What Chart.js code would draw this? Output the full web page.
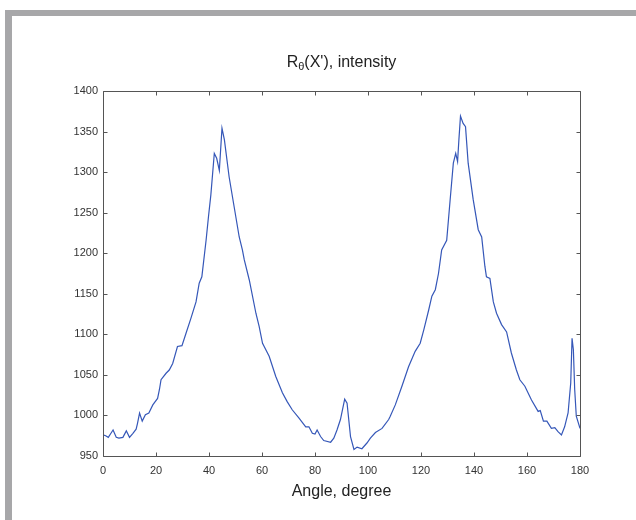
<!DOCTYPE html>
<html>
<head>
<meta charset="utf-8">
<script src="https://cdn.jsdelivr.net/npm/chart.js@4/dist/chart.umd.min.js"></script>
<style>
  html, body { margin: 0; padding: 0; background: #fff; }
  #wrap { position: relative; width: 636px; height: 520px; overflow: hidden; }
  #frameTop { position: absolute; left: 5px; top: 10px; width: 631px; height: 6px; background: #a7a7a9; }
  #frameLeft { position: absolute; left: 5px; top: 10px; width: 7px; height: 510px; background: #a7a7a9; }
  canvas { position: absolute; left: 0; top: 0; }
</style>
</head>
<body>
<div id="wrap">
  <div id="frameTop"></div>
  <div id="frameLeft"></div>
  <canvas id="c" width="636" height="520"></canvas>
</div>
<script>
const angles = [0, 1, 2, 3, 3.8, 5, 6, 7.5, 8.8, 10, 11.3, 12.5, 13, 13.8, 14.8, 16, 17.3, 18.8, 20.6, 21.3,
  21.9, 23.8, 25, 26.3, 28.1, 29.8, 31.3, 33.2, 35.1, 36.3, 37.3, 38.9, 39.8, 40.7, 42, 42.9, 43.9, 44.9, 45.8,
  47.6, 49.5, 51.4, 52.6, 53.3, 55.2, 57.7, 58.9, 60.2, 62.7, 65.2, 67.7, 69.5, 71.4, 73.9, 76.5, 77.7, 79, 80,
  80.8, 82.1, 83.3, 85.9, 87.1, 88.3, 89.6, 91.2, 92.1, 93.4, 94.7, 95.9, 97.7, 99.6, 100.9, 102.8, 105.3, 107.8,
  108.4, 110.3, 112.8, 115.3, 117.8, 119.7, 121.1, 122.9, 124.1, 125.4, 126.6, 127.8, 129.7, 131, 132.2, 133.1,
  133.8, 134.3, 134.9, 135.9, 136.8, 137.8, 139.7, 141.6, 142.9, 144.1, 144.7, 146, 147.3, 148.5, 150.4, 152.3,
  154.1, 156, 157.3, 159.2, 161.7, 164.2, 165, 166.2, 167.5, 169.2, 170.5, 171.7, 173, 174.2, 175.5, 176.5, 177,
  177.5, 178, 178.6, 180];
const intensity = [976, 975, 973, 978, 982, 973, 972, 973, 981, 973, 978, 983, 990, 1003, 993, 1001, 1003, 1013, 1021, 1032,
  1044, 1052, 1056, 1064, 1085, 1086, 1101, 1120, 1140, 1163, 1171, 1216, 1245, 1272, 1323, 1317, 1302, 1354, 1340,
  1294, 1257, 1220, 1204, 1192, 1167, 1126, 1110, 1089, 1073, 1048, 1028, 1017, 1007, 997, 986, 986, 978, 977,
  982, 974, 969, 967, 972, 982, 995, 1020, 1015, 974, 958, 961, 959, 966, 972, 979, 984, 995,
  999, 1013, 1036, 1060, 1079, 1089, 1106, 1130, 1147, 1155, 1175, 1204, 1216, 1266, 1311, 1323,
  1313, 1340, 1369, 1360, 1356, 1311, 1266, 1229, 1220, 1184, 1171, 1169, 1140, 1126, 1112, 1103,
  1077, 1056, 1044, 1036, 1019, 1005, 1006, 993, 993, 984, 985, 980, 976, 986, 1003, 1040, 1095,
  1081, 1032, 999, 984];
const xTicks = [0, 20, 40, 60, 80, 100, 120, 140, 160, 180];
const yTicks = [950, 1000, 1050, 1100, 1150, 1200, 1250, 1300, 1350, 1400];
const titleMain = 'R';
const titleSub = 'θ';
const titleRest = "(X'), intensity";
const xTitle = 'Angle, degree';

const points = angles.map((a, i) => ({ x: a, y: intensity[i] }));

const boxPlugin = {
  id: 'boxPlugin',
  afterDraw(chart) {
    const ctx = chart.ctx;
    const a = chart.chartArea;
    const xs = chart.scales.x, ys = chart.scales.y;
    ctx.save();
    ctx.strokeStyle = '#555555';
    ctx.lineWidth = 1;
    ctx.beginPath();
    const L = Math.round(a.left) + 0.5, R = Math.round(a.right) + 0.5;
    const T = Math.round(a.top) + 0.5, B = Math.round(a.bottom) + 0.5;
    ctx.rect(L, T, R - L, B - T);
    const tl = 4;
    xTicks.forEach(v => {
      const px = Math.round(xs.getPixelForValue(v)) + 0.5;
      ctx.moveTo(px, B); ctx.lineTo(px, B - tl);
      ctx.moveTo(px, T); ctx.lineTo(px, T + tl);
    });
    yTicks.forEach(v => {
      const py = Math.round(ys.getPixelForValue(v)) + 0.5;
      ctx.moveTo(L, py); ctx.lineTo(L + tl, py);
      ctx.moveTo(R, py); ctx.lineTo(R - tl, py);
    });
    ctx.stroke();
    // title
    const cx = (a.left + a.right) / 2;
    const ty = 63;
    ctx.fillStyle = '#222222';
    ctx.textBaseline = 'middle';
    const big = '16px "Liberation Sans", Arial, sans-serif';
    const small = '11px "Liberation Sans", Arial, sans-serif';
    ctx.font = big;
    const w1 = ctx.measureText(titleMain).width;
    const w3 = ctx.measureText(titleRest).width;
    ctx.font = small;
    const w2 = ctx.measureText(titleSub).width;
    let x0 = cx - (w1 + w2 + w3) / 2;
    ctx.textAlign = 'left';
    ctx.font = big;
    ctx.fillText(titleMain, x0, ty);
    ctx.font = small;
    ctx.fillText(titleSub, x0 + w1, ty + 4);
    ctx.font = big;
    ctx.fillText(titleRest, x0 + w1 + w2, ty);
    ctx.restore();
  }
};

new Chart(document.getElementById('c'), {
  type: 'line',
  data: {
    datasets: [{
      data: points,
      borderColor: '#3557b8',
      borderWidth: 1.2,
      pointRadius: 0,
      tension: 0,
      fill: false
    }]
  },
  options: {
    responsive: false,
    animation: false,
    layout: { padding: { left: 0, top: 91, right: 56, bottom: 0 } },
    plugins: { legend: { display: false }, tooltip: { enabled: false }, title: { display: false } },
    scales: {
      x: {
        type: 'linear', min: 0, max: 180,
        afterBuildTicks: s => { s.ticks = xTicks.map(v => ({ value: v })); },
        afterFit: s => { s.height = 64; },
        grid: { display: false, drawTicks: false },
        border: { display: false },
        ticks: { padding: 8, color: '#333333', font: { family: '"Liberation Sans", Arial, sans-serif', size: 11 }, maxRotation: 0, callback: v => String(v) },
        title: { display: true, text: xTitle, color: '#222222', font: { family: '"Liberation Sans", Arial, sans-serif', size: 16 }, padding: { top: 0, bottom: 19 } }
      },
      y: {
        type: 'linear', min: 950, max: 1400,
        afterBuildTicks: s => { s.ticks = yTicks.map(v => ({ value: v })); },
        afterFit: s => { s.width = 103; },
        grid: { display: false, drawTicks: false },
        border: { display: false },
        ticks: { padding: 5, color: '#333333', font: { family: '"Liberation Sans", Arial, sans-serif', size: 11 }, callback: v => String(v) }
      }
    }
  },
  plugins: [boxPlugin]
});
</script>
</body>
</html>
